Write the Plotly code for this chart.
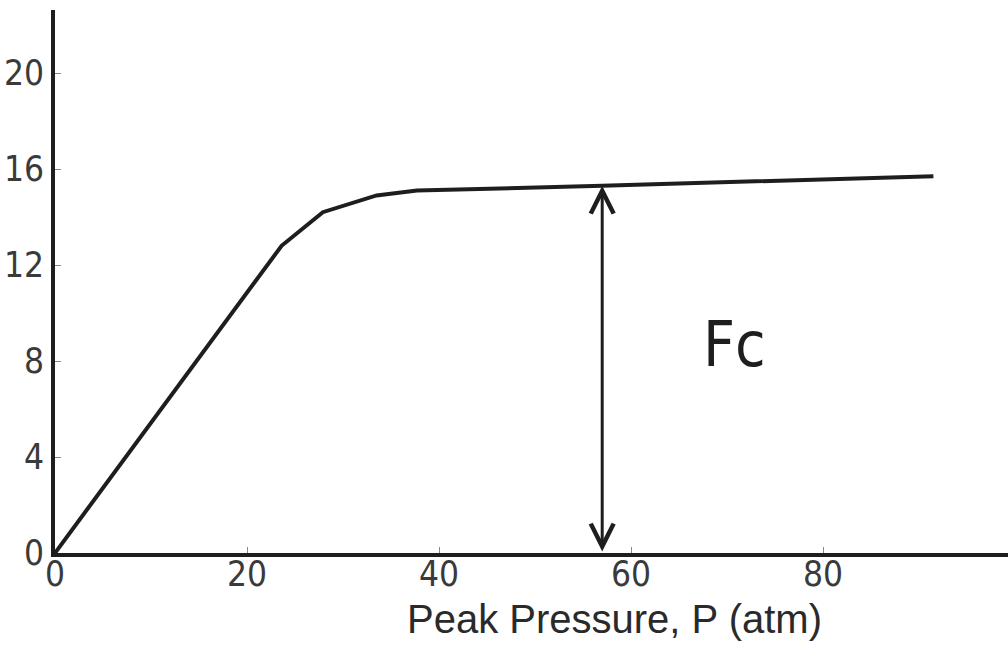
import plotly.graph_objects as go

# Data
pressure = [0, 23.6, 27.9, 33.5, 37.7, 57, 91.5]
force = [0, 12.8, 14.2, 14.9, 15.1, 15.3, 15.7]

x_ticks = [0, 20, 40, 60, 80]
y_ticks = [0, 4, 8, 12, 16, 20]

arrow_x = 57
arrow_top = 15.3
arrow_bottom = 0

label_text = "Fc"
label_x = 70.8
label_y = 8.7

x_title = "Peak Pressure, P (atm)"
x_title_pos = 58.3

INK = "#1e1e1e"
NARROW = "DejaVu Sans Condensed, Liberation Sans, sans-serif"
TICKFONT = dict(family=NARROW, size=35, color="#3a3a3a")

fig = go.Figure()
fig.add_trace(go.Scatter(
    x=pressure, y=force, mode="lines",
    line=dict(color=INK, width=4),
    showlegend=False, hoverinfo="skip",
))

# double-headed arrow (Fc)
fig.add_annotation(
    x=arrow_x, y=arrow_top, ax=arrow_x, ay=arrow_bottom,
    xref="x", yref="y", axref="x", ayref="y",
    text="", showarrow=True, arrowhead=5, startarrowhead=5,
    arrowside="end+start", arrowwidth=3, arrowsize=1.5, startarrowsize=1.5,
    arrowcolor=INK,
)
fig.add_annotation(
    x=label_x, y=label_y, xref="x", yref="y",
    text=label_text, showarrow=False,
    font=dict(family=NARROW, size=62, color=INK),
)
fig.add_annotation(
    x=x_title_pos, y=-0.122, xref="x", yref="paper",
    text=x_title, showarrow=False, yanchor="middle",
    font=dict(family="Liberation Sans", size=40, color="#2a2a2a"),
)

fig.update_xaxes(
    range=[0, 99.27], tickvals=x_ticks, ticktext=[str(v) for v in x_ticks],
    showline=True, linecolor=INK, linewidth=4,
    ticks="inside", ticklen=6, tickwidth=1, tickcolor="#888",
    showgrid=False, zeroline=False, tickfont=TICKFONT,
    ticklabelstandoff=-13,
)
fig.update_yaxes(
    range=[0, 22.625], tickvals=y_ticks, ticktext=[str(v) for v in y_ticks],
    showline=True, linecolor=INK, linewidth=4,
    ticks="inside", ticklen=6, tickwidth=1, tickcolor="#888",
    showgrid=False, zeroline=False, tickfont=TICKFONT,
)
fig.update_layout(
    width=1008, height=645,
    margin=dict(l=55, r=0, t=10, b=92),
    paper_bgcolor="white", plot_bgcolor="white",
)
fig.write_html("out.html")
